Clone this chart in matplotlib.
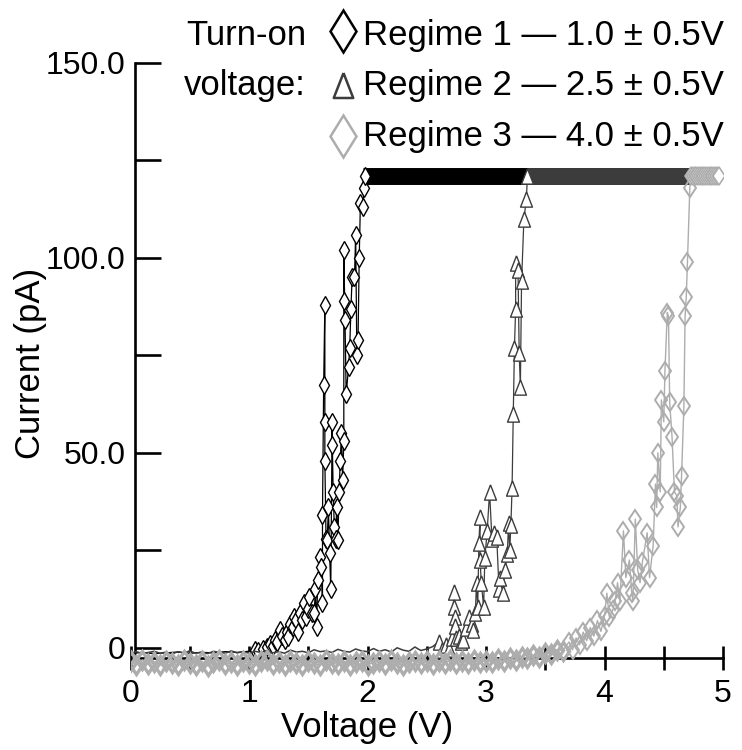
import matplotlib
matplotlib.use("Agg")
import matplotlib.pyplot as plt
from matplotlib.lines import Line2D
from matplotlib.ticker import FixedLocator

plt.rcParams['font.family'] = ['Liberation Sans', 'DejaVu Sans']

# saturation level of the amplifier (pA) and end of the sweep (V)
SAT = 121.0
V_END = 4.97

# Regime 1 (black diamonds)
r1_base_v = [0.00, 0.10, 0.20, 0.30, 0.40, 0.50, 0.60, 0.70, 0.80, 0.90, 1.00]
r1_base_i = [-1.4, -1.2, -1.5, -1.3, -1.1, -1.4, -1.2, -1.3, -1.0, -1.2, -0.9]
r1_rise_v = [1.05, 1.08, 1.12, 1.15, 1.18, 1.20, 1.22, 1.24, 1.26, 1.28,
             1.30, 1.32, 1.33, 1.35, 1.37, 1.38, 1.40, 1.41, 1.43, 1.45,
             1.46, 1.48, 1.50, 1.51, 1.53, 1.55, 1.56, 1.57, 1.58, 1.60,
             1.61, 1.62, 1.62, 1.63, 1.64, 1.64, 1.64, 1.65, 1.66, 1.67,
             1.68, 1.69, 1.70, 1.70, 1.71, 1.72, 1.73, 1.74, 1.75, 1.76,
             1.77, 1.78, 1.79, 1.80, 1.80, 1.80, 1.81, 1.82, 1.84, 1.85,
             1.86, 1.87, 1.89, 1.90, 1.91, 1.92, 1.93, 1.94, 1.96, 1.97, 1.98]
r1_rise_i = [-0.6, -0.8, -0.3, 0.3, 1.0, 0.5, 2.0, 1.5, 4.6, 3.0,
             2.0, 4.0, 2.8, 6.0, 5.4, 8.0, 7.0, 4.0, 9.0, 7.0,
             11.5, 8.0, 10.0, 13.0, 9.0, 9.0, 15.0, 5.4, 17.4, 23.3,
             20.8, 11.5, 34.0, 67.5, 88.0, 58.0, 48.0, 28.0, 27.7, 36.0,
             24.4, 15.0, 52.0, 58.0, 40.0, 31.0, 28.0, 36.0, 27.7, 40.0,
             48.0, 55.0, 43.0, 53.0, 89.0, 102.0, 84.0, 65.0, 72.0, 77.0,
             87.0, 95.0, 95.0, 106.0, 75.0, 79.0, 100.0, 114.0, 113.0, 118.0, 121.0]
r1_sat_v = 1.96

# Regime 2 (dark grey triangles)
r2_base_v = [0.00, 0.05, 0.10, 0.15, 0.20, 0.25, 0.30, 0.35, 0.40, 0.45,
             0.50, 0.55, 0.60, 0.65, 0.70, 0.75, 0.80, 0.85, 0.90, 0.95,
             1.00, 1.05, 1.10, 1.15, 1.20, 1.25, 1.30, 1.35, 1.40, 1.45,
             1.50, 1.55, 1.60, 1.65, 1.70, 1.75, 1.80, 1.85, 1.90, 1.95,
             2.00, 2.05, 2.10, 2.15, 2.20, 2.25, 2.30, 2.35, 2.40, 2.45,
             2.50, 2.55]
r2_base_i = [-1.4, -1.0, -1.5, -1.2, -0.9, -1.4, -1.1, -1.6, -1.0, -1.3,
             -0.8, -1.4, -1.1, -1.5, -0.9, -1.2, -1.4, -0.8, -1.3, -1.0,
             -1.4, -0.9, -1.2, -0.7, -1.3, -1.0, -1.4, -0.6, -1.1, -0.9,
             -1.3, -0.5, -1.0, -0.8, -1.2, -0.4, -0.9, -1.1, -0.3, -0.8,
             -1.0, -0.2, -0.9, -0.5, -1.1, 0.0, -0.6, -0.9, 0.2, -0.7,
             -0.3, 0.3]
r2_rise_v = [2.60, 2.63, 2.66, 2.69, 2.71, 2.73, 2.73, 2.74, 2.74, 2.75,
             2.77, 2.79, 2.81, 2.83, 2.86, 2.88, 2.89, 2.91, 2.92, 2.93,
             2.94, 2.95, 2.95, 2.96, 2.98, 2.99, 3.01, 3.03, 3.05, 3.07,
             3.09, 3.11, 3.12, 3.14, 3.16, 3.18, 3.19, 3.20, 3.21, 3.22,
             3.23, 3.24, 3.25, 3.25, 3.27, 3.28, 3.29, 3.30, 3.32, 3.34, 3.35]
r2_rise_i = [1.5, -0.5, 0.8, -0.2, 2.5, 14.4, 10.5, 8.0, 5.5, 2.5,
             3.0, 1.5, 2.0, 5.0, 8.0, 6.0, 4.6, 9.0, 16.7, 10.5,
             27.0, 33.6, 22.5, 16.7, 10.5, 23.0, 30.0, 40.0, 28.0, 29.5,
             28.5, 15.0, 18.0, 14.0, 20.0, 24.0, 32.0, 25.0, 31.5, 41.0,
             60.0, 77.0, 87.0, 98.7, 97.0, 75.6, 67.0, 94.0, 110.0, 115.0, 121.0]
r2_sat_v = 3.35

# Regime 3 (light grey diamonds)
r3_base_v = [0.00, 0.05, 0.10, 0.15, 0.20, 0.25, 0.30, 0.35, 0.40, 0.45,
             0.50, 0.55, 0.60, 0.65, 0.70, 0.75, 0.80, 0.85, 0.90, 0.95,
             1.00, 1.05, 1.10, 1.15, 1.20, 1.25, 1.30, 1.35, 1.40, 1.45,
             1.50, 1.55, 1.60, 1.65, 1.70, 1.75, 1.80, 1.85, 1.90, 1.95,
             2.00, 2.05, 2.10, 2.15, 2.20, 2.25, 2.30, 2.35, 2.40, 2.45,
             2.50, 2.55, 2.60, 2.65, 2.70, 2.75, 2.80, 2.85, 2.90, 2.95,
             3.00, 3.05, 3.10, 3.15, 3.20, 3.25, 3.30, 3.35, 3.40, 3.45,
             3.50, 3.55, 3.60, 3.65]
r3_base_i = [-3.4, -4.3, -3.1, -4.2, -3.6, -4.5, -3.3, -4.0, -4.4, -3.2,
             -3.9, -4.3, -3.4, -4.6, -3.6, -3.1, -4.2, -3.7, -4.4, -3.3,
             -4.0, -4.5, -3.4, -3.2, -4.2, -3.6, -4.4, -3.3, -4.0, -4.3,
             -3.4, -3.9, -4.5, -3.2, -4.0, -4.2, -3.4, -4.4, -3.6, -3.3,
             -4.3, -3.8, -3.4, -4.2, -3.1, -4.0, -4.4, -3.6, -3.3, -4.0,
             -3.5, -4.1, -3.3, -3.9, -3.2, -4.0, -3.4, -3.8, -3.2, -3.7,
             -3.3, -3.6, -3.0, -3.4, -2.7, -3.1, -2.4, -2.7, -1.9, -2.3,
             -1.4, -1.6, -0.5, -0.7]
r3_rise_v = [3.70, 3.73, 3.76, 3.79, 3.82, 3.85, 3.88, 3.91, 3.94, 3.97,
             4.00, 4.02, 4.04, 4.07, 4.09, 4.11, 4.13, 4.16, 4.18, 4.21,
             4.23, 4.24, 4.26, 4.28, 4.30, 4.32, 4.36, 4.38, 4.41, 4.43,
             4.44, 4.45, 4.47, 4.48, 4.50, 4.51, 4.53, 4.54, 4.55, 4.57,
             4.59, 4.61, 4.62, 4.64, 4.65, 4.67, 4.68, 4.69, 4.70, 4.72]
r3_rise_i = [1.5, -0.5, 2.5, 0.8, 4.0, 1.8, 5.2, 3.0, 7.0, 4.2,
             8.2, 14.0, 8.0, 9.7, 12.0, 16.7, 12.0, 30.0, 18.0, 22.5,
             14.0, 12.0, 33.0, 20.0, 16.7, 22.0, 29.5, 18.0, 26.0, 42.0,
             36.0, 50.0, 40.0, 63.6, 58.0, 71.0, 86.0, 85.0, 63.0, 54.0,
             40.0, 39.0, 31.0, 36.0, 44.0, 62.0, 85.0, 90.0, 99.0, 118.0]
r3_sat_v = [4.73, 4.745, 4.76, 4.775, 4.79, 4.805, 4.82, 4.835, 4.85, 4.865,
            4.88, 4.895, 4.91, 4.925, 4.94, 4.955, 4.97]
r3_sat_i = [121, 121, 121, 121, 121, 121, 121, 121, 121, 121,
            121, 121, 121, 121, 121, 121, 121]

labels = ['Regime 1 \u2014 1.0 \u00b1 0.5V',
          'Regime 2 \u2014 2.5 \u00b1 0.5V',
          'Regime 3 \u2014 4.0 \u00b1 0.5V']

C1, C2, C3 = '#000000', '#3c3c3c', '#adadad'
TRI = [(0, 1), (-0.78, -1), (0.78, -1), (0, 1)]

fig = plt.figure(figsize=(7.42, 7.5), dpi=100)
ax = fig.add_axes([0.1759, 0.0947, 0.7985, 0.8213])
ax.set_xlim(0, 5)
ax.set_ylim(-8, 150)

mk = dict(mfc='white', mew=1.0, lw=0.9)

# regime 1
ax.plot([r1_sat_v, V_END], [SAT, SAT], color=C1, lw=12.2, solid_capstyle='butt')
ax.plot(r1_base_v + r1_rise_v[:1], r1_base_i + r1_rise_i[:1], color=C1, lw=1.0)
ax.plot(r1_rise_v, r1_rise_i, color=C1, marker='d', ms=9.0, mec=C1, **mk)

# regime 2
ax.plot([r2_sat_v, V_END], [SAT, SAT], color=C2, lw=12.2, solid_capstyle='butt')
ax.plot(r2_base_v + r2_rise_v[:1], r2_base_i + r2_rise_i[:1], color=C2, lw=1.1)
ax.plot(r2_rise_v, r2_rise_i, color=C2, marker=TRI, ms=11, mec=C2, **mk)

# regime 3: hollow markers below saturation, opaque ones on the plateau
r3_v = r3_base_v + r3_rise_v
r3_i = r3_base_i + r3_rise_i
n_base = len(r3_base_v)
ax.plot(r3_v + r3_sat_v[:1], r3_i + r3_sat_i[:1], color=C3, lw=1.0)
ax.plot(r3_base_v, r3_base_i, ls='none', marker='d', ms=9.5, mec=C3, mfc='none', mew=2.4)
ax.plot(r3_rise_v, r3_rise_i, ls='none', marker='d', ms=9.5, mec=C3, mfc='none', mew=1.4)
ax.plot(r3_sat_v, r3_sat_i, color=C3, marker='d', ms=9.5, mec=C3, mfc='white',
        mew=1.2, lw=1.0)

# axes styling
for s in ['top', 'right']:
    ax.spines[s].set_visible(False)
ax.spines['left'].set_position(('data', 0.035))
ax.spines['left'].set_bounds(-2.6, 150)
ax.spines['bottom'].set_position(('data', -2.6))
ax.spines['bottom'].set_bounds(0.035, 5)
for s in ['left', 'bottom']:
    ax.spines[s].set_linewidth(1.9)
    ax.spines[s].set_zorder(1)
ax.set_axisbelow(True)

ax.xaxis.set_major_locator(FixedLocator([0, 1, 2, 3, 4, 5]))
ax.xaxis.set_minor_locator(FixedLocator([0.5, 1.5, 2.5, 3.5, 4.5]))
ax.set_xticklabels(['0', '1', '2', '3', '4', '5'])
ax.yaxis.set_major_locator(FixedLocator([0, 50, 100, 150]))
ax.yaxis.set_minor_locator(FixedLocator([25, 75, 125]))
ax.set_yticklabels(['0', '50.0', '100.0', '150.0'])
ax.tick_params(axis='x', which='both', direction='inout', length=17, width=1.9,
               pad=7, labelsize=23)
ax.tick_params(axis='y', which='both', direction='in', length=18.7, width=1.9,
               pad=6.5, labelsize=23)

fig.text(367 / 742, 1 - 727 / 750, 'Voltage (V)', fontsize=25, ha='center', va='center')
fig.text(31 / 742, 1 - 363 / 750, 'Current (pA)', fontsize=25, ha='center', va='center',
         rotation=90)

# legend drawn by hand
fig.text(306 / 742, 1 - 45 / 750, 'Turn-on', fontsize=25, ha='right', va='baseline')
fig.text(306 / 742, 1 - 95 / 750, 'voltage:', fontsize=25, ha='right', va='baseline')
rows = [(31, 45, 'd', 21.4, C1), (85, 95, TRI, 18, C2), (136, 146, 'd', 21.4, C3)]
for (my, ty, m, s, c), lab in zip(rows, labels):
    fig.add_artist(Line2D([343 / 742], [1 - my / 750], marker=m, ms=s, mfc='white',
                          mec=c, mew=1.8, transform=fig.transFigure))
    fig.text(363 / 742, 1 - ty / 750, lab, fontsize=25, ha='left', va='baseline')

fig.savefig('out.png', dpi=100)
